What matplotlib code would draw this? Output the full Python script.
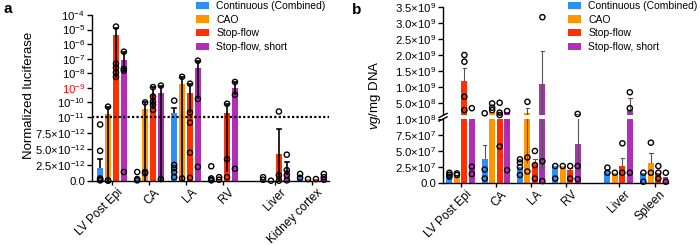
import numpy as np
import matplotlib
matplotlib.use("Agg")
import matplotlib.pyplot as plt
from matplotlib.patches import Rectangle, Patch
from matplotlib.lines import Line2D
from matplotlib.ticker import NullLocator
import matplotlib.transforms as mtransforms

plt.rcParams['font.family'] = ['Liberation Sans', 'DejaVu Sans']
plt.rcParams['mathtext.fontset'] = 'custom'
plt.rcParams['mathtext.rm'] = 'Liberation Sans'
plt.rcParams['mathtext.it'] = 'Liberation Sans:italic'
plt.rcParams['mathtext.bf'] = 'Liberation Sans:bold'

nan = np.nan
series = ["Continuous (Combined)", "CAO", "Stop-flow", "Stop-flow, short"]
colors = ["#3090f2", "#ff9600", "#ff3000", "#b22db8"]

# ---------------- panel a data ----------------
groups_a = ["LV Post Epi", "CA", "LA", "RV", "Liver", "Kidney cortex"]
cont_a = [2.0e-12, 0.5e-12, 1.9e-11, 0.5e-12, 0.3e-12, 0.6e-12]
cao_a = [1.6e-11, 3.6e-11, 1.9e-9, 0.3e-12, 0.05e-12, 0.3e-12]
stop_a = [3.9e-6, 3e-10, 4.5e-10, 1.9e-11, 4.2e-12, 0.3e-12]
short_a = [8.5e-8, 4.5e-10, 2.4e-8, 1e-9, 1.7e-12, 0.5e-12]

cont_a_hi = [3.4e-12, nan, 4.2e-11, nan, nan, nan]
cao_a_hi = [4.9e-11, 9.7e-11, 5.6e-9, nan, nan, nan]
stop_a_hi = [1.3e-5, 1.1e-9, 1.9e-9, 7.9e-11, 8.1e-12, nan]
short_a_hi = [3e-7, 1.4e-9, 7.2e-8, 2.5e-9, 3e-12, nan]

cont_a_lo = [nan, nan, nan, nan, nan, nan]
cao_a_lo = [0.0, 0.0, 0.0, nan, nan, nan]
stop_a_lo = [5e-9, 3.5e-11, 1.9e-11, 1.4e-12, 0.0, nan]
short_a_lo = [1.5e-8, 0.0, 1.7e-10, 3e-10, 0.9e-12, nan]

cont_pts_a = [[8.8e-12, 4.7e-12, 0.4e-12, 0.2e-12, 0.1e-12], [1.4e-12, 0.3e-12, 0.1e-12],
              [1.3e-10, 2.5e-12, 2.0e-12, 1.4e-12, 0.6e-12], [2.3e-12, 0.4e-12, 0.2e-12, 0.1e-12],
              [0.6e-12, 0.2e-12], [1.1e-12, 0.5e-12]]
cao_pts_a = [[5e-11, 0.1e-12, 0.05e-12], [9.7e-11, 1.4e-12, 1.2e-12], [5.6e-9, 0.4e-12],
             [0.6e-12, 0.2e-12], [0.05e-12], [0.3e-12]]
stop_pts_a = [[1.6e-5, 4.5e-8, 2.4e-8, 1.1e-8, 5.5e-9], [1.1e-9, 2.5e-10, 1.1e-10, 6.7e-11, 3e-11],
              [1.9e-9, 2e-11, 9.1e-12, 4.4e-12, 0.5e-12], [7.9e-11, 3.4e-12, 0.6e-12],
              [2.3e-11, 0.9e-12, 0.05e-12], [0.3e-12]]
short_pts_a = [[3e-7, 2e-8, 1.5e-8, 1.4e-12], [1.4e-9, 0.3e-12], [7.2e-8, 1.7e-10, 2.2e-12],
               [2.5e-9, 3.3e-10, 1.9e-12], [4.1e-12, 1.7e-12, 0.9e-12, 0.1e-12],
               [1.1e-12, 0.6e-12, 0.2e-12]]

yticks_a = [0, 2.5e-12, 5e-12, 7.5e-12, 1e-11, 1e-10, 1e-9, 1e-8, 1e-7, 1e-6, 1e-5, 1e-4]
yticklabels_a = ["0.0", r"$2.5{\times}10^{-12}$", r"$5.0{\times}10^{-12}$", r"$7.5{\times}10^{-12}$",
                 r"$10^{-11}$", r"$10^{-10}$", r"$10^{-9}$", r"$10^{-8}$", r"$10^{-7}$",
                 r"$10^{-6}$", r"$10^{-5}$", r"$10^{-4}$"]

# ---------------- panel b data ----------------
groups_b = ["LV Post Epi", "CA", "LA", "RV", "Liver", "Spleen"]
cont_b = [1.3e7, 3.7e7, 2.5e7, 2.65e7, 1.8e7, 1.6e7]
cao_b = [1.25e7, 2.2e8, 1.9e8, 2.65e7, 1.6e7, 3.2e7]
stop_b = [1.185e9, 1.8e8, 3.1e7, 2.0e7, 2.65e7, 1.6e7]
short_b = [1.16e8, 2.2e8, 1.08e9, 6.1e7, 2.7e8, 1.0e7]

cont_b_hi = [nan, 5.9e7, nan, nan, nan, nan]
cao_b_hi = [nan, nan, 3.3e8, nan, nan, 4.7e7]
stop_b_hi = [1.58e9, nan, 3.7e7, 2.4e7, 3.85e7, nan]
short_b_hi = [nan, nan, 2.13e9, 1.5e8, 6.5e8, nan]

cont_b_lo = [nan, nan, nan, nan, nan, nan]
cao_b_lo = [nan, nan, 3.1e7, nan, nan, nan]
stop_b_lo = [nan, nan, nan, nan, nan, nan]
short_b_lo = [nan, 7.7e7, 1.8e7, 1.8e7, 1.2e8, nan]

cont_pts_b = [[1.6e7, 1.3e7, 1.0e7], [1.7e8, 2.1e7, 0.7e7], [3.7e7, 3.2e7, 2.5e7, 1.25e7],
              [2.65e7, 0.7e7], [2.4e7, 1.6e7], [1.6e7, 0.2e7]]
cao_pts_b = [[1.5e7, 1.25e7], [4.8e8, 3.45e8, 2.7e8], [5.3e8, 4e7, 1.8e7], [2.65e7], [1.6e7],
             [6.3e7, 1.6e7]]
stop_pts_b = [[2.0e9, 1.79e9, 6.9e8, 2.7e8], [5e8, 1.9e8, 1.15e8, 5.7e7], [5e7, 2.8e7, 0.7e7],
              [2.65e7, 0.7e7], [6.2e7, 1.6e7], [2.65e7, 1.6e7, 0.7e7]]
short_pts_b = [[3.3e8, 2.55e7, 1.4e7], [2.4e8, 2.0e7], [3.19e9, 3.4e7, 0.3e7],
               [1.5e8, 2.65e7, 0.6e7], [8.3e8, 3.3e8, 1.6e7], [1.6e7, 0.2e7]]

yticks_b = [0, 2.5e7, 5e7, 7.5e7, 1e8, 5e8, 1e9, 1.5e9, 2e9, 2.5e9, 3e9, 3.5e9]
yticklabels_b = ["0.0", r"$2.5{\times}10^{7}$", r"$5.0{\times}10^{7}$", r"$7.5{\times}10^{7}$",
                 r"$1.0{\times}10^{8}$", r"$5.0{\times}10^{8}$", r"$1.0{\times}10^{9}$",
                 r"$1.5{\times}10^{9}$", r"$2.0{\times}10^{9}$", r"$2.5{\times}10^{9}$",
                 r"$3.0{\times}10^{9}$", r"$3.5{\times}10^{9}$"]

# ---------------- scales ----------------
KA = 14.5 / 64.0
TA = 1e-11


def fwd_a(y):
    y = np.asarray(y, dtype=float)
    lg = 1 + KA * np.log10(np.maximum(y, 1e-30) / TA)
    return np.where(y <= TA, y / TA, lg)


def inv_a(u):
    u = np.asarray(u, dtype=float)
    uu = np.clip(u, -50, 50)
    return np.where(u <= 1, u * TA, TA * 10 ** ((uu - 1) / KA))


BB = 1e8
GB = 3.5 / 64.0
RB = (108.2 / 34.0) / 64.0


def fwd_b(y):
    y = np.asarray(y, dtype=float)
    return np.where(y <= BB, y / BB, 1 + GB + (y - BB) / BB * RB)


def inv_b(u):
    u = np.asarray(u, dtype=float)
    return np.where(u <= 1, u * BB, np.where(u < 1 + GB, BB, BB + (u - 1 - GB) / RB * BB))


W, H = 700, 245
fig = plt.figure(figsize=(7, 2.45), dpi=100)
ax_a = fig.add_axes([92 / W, 1 - 181 / H, (329 - 92) / W, (181 - 15) / H])
ax_b = fig.add_axes([443 / W, 1 - 183 / H, (668 - 443) / W, (183 - 7.3) / H])


def draw(ax, gx, offs, width, vals, his, los, pts, ecol, elw, cap):
    for i in range(4):
        xs = np.asarray(gx) + offs[i]
        ax.bar(xs, vals[i], width=width, color=colors[i], zorder=1, linewidth=0)
        for j, x in enumerate(xs):
            lo = los[i][j] if not np.isnan(los[i][j]) else vals[i][j]
            hi = his[i][j] if not np.isnan(his[i][j]) else vals[i][j]
            if hi > lo:
                ax.plot([x, x], [lo, hi], color=ecol, lw=elw, zorder=2, solid_capstyle='butt')
            if not np.isnan(his[i][j]):
                ax.plot([x - cap, x + cap], [hi, hi], color=ecol, lw=elw, zorder=2)
            p = pts[i][j]
            ax.scatter([x] * len(p), p, s=14, facecolors='none', edgecolors='black',
                       linewidths=1.0, zorder=4, clip_on=False)


def style(ax):
    for s in ['top', 'right']:
        ax.spines[s].set_visible(False)
    for s in ['left', 'bottom']:
        ax.spines[s].set_linewidth(1.0)
    ax.tick_params(axis='y', labelsize=8.2, width=1.0, length=3.5, pad=1.5)
    ax.tick_params(axis='x', labelsize=8.6, width=1.0, length=3, pad=1.0)
    ax.yaxis.set_minor_locator(NullLocator())
    shift = mtransforms.ScaledTranslation(5 / 100, 0, fig.dpi_scale_trans)
    for lab in ax.get_xticklabels():
        lab.set_transform(lab.get_transform() + shift)


# ---------------- panel a ----------------
ax_a.set_yscale('function', functions=(fwd_a, inv_a))
gx_a = [0, 1, 2, 3, 4.4, 5.4]
offs_a = [-0.32, -0.107, 0.107, 0.32]
draw(ax_a, gx_a, offs_a, 0.16, [cont_a, cao_a, stop_a, short_a],
     [cont_a_hi, cao_a_hi, stop_a_hi, short_a_hi], [cont_a_lo, cao_a_lo, stop_a_lo, short_a_lo],
     [cont_pts_a, cao_pts_a, stop_pts_a, short_pts_a], 'black', 1.2, 0.05)
ax_a.axhline(TA, color='black', lw=1.6, ls=(0, (1, 1)), zorder=3)
ax_a.set_ylim(0, 1e-4)
ax_a.set_xlim(-0.54, 5.86)
ax_a.set_yticks(yticks_a)
ax_a.set_yticklabels(yticklabels_a)
ax_a.get_yticklabels()[6].set_color('red')
ax_a.set_xticks(gx_a)
ax_a.set_xticklabels(groups_a, rotation=45, ha='right', rotation_mode='anchor')
style(ax_a)

# ---------------- panel b ----------------
ax_b.set_yscale('function', functions=(fwd_b, inv_b))
gx_b = [0, 1, 2, 3, 4.48, 5.5]
offs_b = [-0.318, -0.106, 0.106, 0.318]
draw(ax_b, gx_b, offs_b, 0.17, [cont_b, cao_b, stop_b, short_b],
     [cont_b_hi, cao_b_hi, stop_b_hi, short_b_hi], [cont_b_lo, cao_b_lo, stop_b_lo, short_b_lo],
     [cont_pts_b, cao_pts_b, stop_pts_b, short_pts_b], '#555555', 0.8, 0.05)
ax_b.set_ylim(0, 3.5e9)
ax_b.set_xlim(-0.5, 5.88)
ax_b.set_yticks(yticks_b)
ax_b.set_yticklabels(yticklabels_b)
ax_b.set_xticks(gx_b)
ax_b.set_xticklabels(groups_b, rotation=45, ha='right', rotation_mode='anchor')
style(ax_b)

umax = float(fwd_b(3.5e9))
y0 = 1.0 / umax
hh = GB / umax
ax_b.add_patch(Rectangle((-0.03, y0), 1.03, hh, transform=ax_b.transAxes, color='white',
                         zorder=2.6, clip_on=False, linewidth=0))
for yy in (y0, y0 + hh):
    ax_b.add_line(Line2D([-0.018, 0.018], [yy - 0.012, yy + 0.012], transform=ax_b.transAxes,
                         color='black', lw=1.0, clip_on=False, zorder=5))

# ---------------- labels ----------------
fig.text(29 / W, 1 - 95 / H, "Normalized luciferase", rotation=90, ha='center', va='center',
         fontsize=9.5)
fig.text(375 / W, 1 - 95 / H, r"$\it{vg}$/mg DNA", rotation=90, ha='center', va='center',
         fontsize=9.5)
fig.text(3 / W, 1 - 2 / H, "a", fontsize=11, fontweight='bold', va='top', ha='left')
fig.text(352 / W, 1 - 3 / H, "b", fontsize=11, fontweight='bold', va='top', ha='left')

handles = [Patch(facecolor=c, edgecolor='none') for c in colors]
for lx in (196, 568):
    fig.legend(handles, series, loc='upper left', bbox_to_anchor=(lx / W, 1 - 1 / H),
               frameon=False, fontsize=7.5, handlelength=1.25, handleheight=0.7,
               handletextpad=0.7, labelspacing=0.35, borderpad=0, borderaxespad=0)

fig.savefig("out.png", dpi=100)
